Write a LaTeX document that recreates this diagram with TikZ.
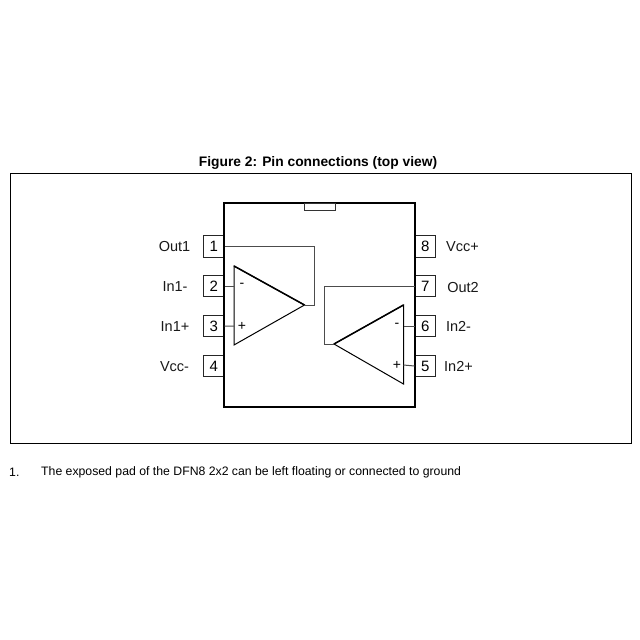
\documentclass[tikz,border=0pt]{standalone}
\usepackage{fontspec}
\setmainfont{Liberation Sans}
\begin{document}
\begin{tikzpicture}[x=1pt,y=-1pt,
  pinbox/.style={draw=black!85,line width=1pt,minimum width=20.5pt,minimum height=21.5pt,inner sep=0pt,font=\fontsize{15}{17}\selectfont,fill=white},
  lbl/.style={font=\fontsize{14.5}{16}\selectfont,text=black!90,inner sep=0pt},
  wire/.style={draw=black!70,line width=1pt},
  amp/.style={draw=black,line width=1pt,line join=miter},
  sign/.style={font=\fontsize{14}{16}\selectfont,inner sep=0pt}]
\useasboundingbox (0,0) rectangle (640,640);
\fill[white] (0,0) rectangle (640,640);
\node[font=\bfseries\fontsize{13.8}{16}\selectfont,inner sep=0pt] (title) at (318,163) {Figure 2: Pin connections (top view)};
\node[draw=black,line width=1pt,minimum width=621pt,minimum height=270pt,inner sep=0pt] (frame) at (320.5,308) {};
\node[pinbox] (p1) at (213.75,246.7) {1};
\node[pinbox] (p2) at (213.75,286) {2};
\node[pinbox] (p3) at (213.75,326.2) {3};
\node[pinbox] (p4) at (213.75,366) {4};
\node[pinbox] (p8) at (425.25,246.7) {8};
\node[pinbox] (p7) at (425.25,286) {7};
\node[pinbox] (p6) at (425.25,326) {6};
\node[pinbox] (p5) at (425.25,366) {5};
\node[draw=black,fill=white,line width=2pt,minimum width=191pt,minimum height=203.5pt,inner sep=0pt] (pkg) at (319.5,304.75) {};
\node[draw=black!80,line width=1pt,minimum width=31pt,minimum height=7pt,inner sep=0pt] (notch) at (319.5,206.5) {};
\node[lbl] (l1) at (174.5,246.7) {Out1};
\node[lbl] (l2) at (175,286.7) {In1-};
\node[lbl] (l3) at (175,326.7) {In1+};
\node[lbl] (l4) at (174.5,366.7) {Vcc-};
\node[lbl] (l8) at (462.5,246.7) {Vcc+};
\node[lbl] (l7) at (463,287.7) {Out2};
\node[lbl] (l6) at (458.5,326.7) {In2-};
\node[lbl] (l5) at (458.5,366.7) {In2+};
\coordinate (a1t) at (234,266);
\coordinate (a1b) at (234,345);
\coordinate (a1o) at (304.5,305);
\coordinate (a2t) at (403.5,305);
\coordinate (a2b) at (403.5,384);
\coordinate (a2o) at (334,344);
\draw[amp] (a1t) -- (a1b) -- (a1o) -- cycle;
\draw[amp] (a2t) -- (a2b) -- (a2o) -- cycle;
\draw[amp,line width=1.5pt] (a1t) -- (a1o);
\draw[amp,line width=1.5pt] (a2t) -- (a2o);
\draw[wire] (p1.east) -- (314.5,246.7) -- (314.5,305) -- (a1o);
\draw[wire] (p2.east) -- (234,286);
\draw[wire] (p3.east) -- (234,326);
\draw[wire] (p7.west) -- (324,286) -- (324,344) -- (a2o);
\draw[wire] (p6.west) -- (403.5,326);
\draw[wire] (p5.west) -- (403.5,365);
\node[sign] (m1) at (242,285.5) {-};
\node[sign] (s1) at (242,326) {+};
\node[sign] (m2) at (397,325.5) {-};
\node[sign] (s2) at (397,365) {+};
\node[font=\fontsize{12.26}{14}\selectfont,inner sep=0pt,anchor=west] (n1) at (9,472) {1.};
\node[font=\fontsize{12.26}{14}\selectfont,inner sep=0pt,anchor=west] (n2) at (41,472) {The exposed pad of the DFN8 2x2 can be left floating or connected to ground};
\end{tikzpicture}
\end{document}
